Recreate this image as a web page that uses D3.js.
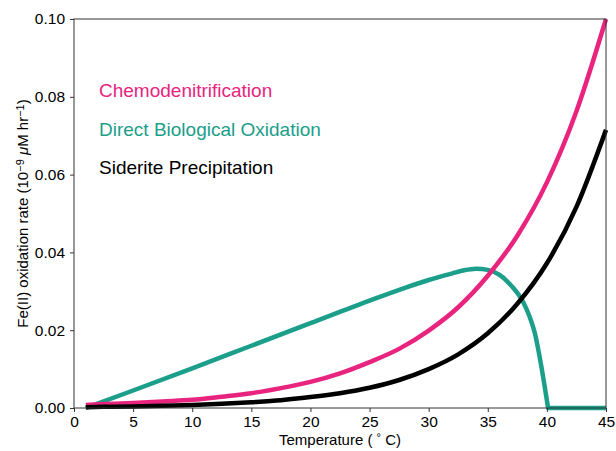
<!DOCTYPE html>
<html>
<head>
<meta charset="utf-8">
<script src="https://cdn.jsdelivr.net/npm/d3@7"></script>
<style>
    body { margin: 0; background: #fff; }
    text { font-family: "Liberation Sans", Arial, sans-serif; }
</style>
</head>
<body>
<div id="chart" style="width:616px;height:451px"></div>
<script>
/* global d3 */

// values
let tempsChemo = [1, 2.5, 5, 7.5, 10, 12.5, 15, 17.5, 20, 22.5, 25, 27.5, 30, 32.5, 35, 37.5, 40, 42.5, 45]
let chemoRate = [0.0008, 0.001, 0.0013, 0.0017, 0.0021, 0.0029, 0.0038, 0.0051, 0.0067, 0.0089, 0.0118, 0.0152, 0.0199, 0.0259, 0.0340, 0.0443, 0.0580, 0.0763, 0.1000]

let tempsSiderite = [1, 2.5, 5, 7.5, 10, 12.5, 15, 17.5, 20, 22.5, 25, 27.5, 30, 32.5, 35, 37.5, 40, 42.5, 45]
let sideriteRate = [0.0002, 0.0003, 0.0004, 0.0006, 0.0008, 0.0011, 0.0015, 0.002, 0.0028, 0.0038, 0.0052, 0.0072, 0.0100, 0.0138, 0.0192, 0.0268, 0.0372, 0.0517, 0.0715]

let tempsBio = [1, 5, 10, 15, 20, 25, 28, 30, 32, 33, 34, 35, 36, 37, 38, 38.5, 39, 39.5, 40.1, 45]
let bioRate = [0, 0.0045, 0.0102, 0.0160, 0.0218, 0.0276, 0.0309, 0.0329, 0.0346, 0.0354, 0.0358, 0.0355, 0.0342, 0.0314, 0.0272, 0.0238, 0.0190, 0.0112, 0, 0]

let xTicks = [0, 5, 10, 15, 20, 25, 30, 35, 40, 45]
let yTicks = [0, 0.02, 0.04, 0.06, 0.08, 0.10]

let seriesNames = ['Chemodenitrification', 'Direct Biological Oxidation', 'Siderite Precipitation']
let seriesColors = ['#e8247f', '#1b9e8a', '#000000']

let svgWidth = 616
let svgHeight = 451
let margin = { top: 19, right: 10, bottom: 43, left: 74 }
let width = svgWidth - margin.left - margin.right
let height = svgHeight - margin.top - margin.bottom

let svg = d3.select('#chart').append('svg')
    .attr('width', svgWidth)
    .attr('height', svgHeight)

let g = svg.append('g')
    .attr('transform', 'translate(' + margin.left + ', ' + margin.top + ')')

let xScale = d3.scaleLinear().domain([0, 45]).range([0, width])
let yScale = d3.scaleLinear().domain([0, 0.10]).range([height, 0])

let xAxis = d3.axisBottom(xScale)
    .tickValues(xTicks)
    .tickSize(4)
    .tickPadding(4)
    .tickFormat(d3.format('d'))

let yAxis = d3.axisLeft(yScale)
    .tickValues(yTicks)
    .tickSize(4)
    .tickPadding(5)
    .tickFormat(d3.format('.2f'))

let line = d3.line()
    .x(function (d) { return xScale(d[0]) })
    .y(function (d) { return yScale(d[1]) })
    .curve(d3.curveMonotoneX)

let lineStraight = d3.line()
    .x(function (d) { return xScale(d[0]) })
    .y(function (d) { return yScale(d[1]) })

let plot = g.append('g')

// biological oxidation first, the other two sit on top
// smooth up to the point where it hits zero, then a straight flat tail
let bioData = d3.zip(tempsBio, bioRate)
let zeroAt = bioRate.indexOf(0, 1)
plot.append('path')
    .attr('d', line(bioData.slice(0, zeroAt + 1)) + lineStraight(bioData.slice(zeroAt)).replace('M', 'L'))
    .attr('fill', 'none')
    .attr('stroke', seriesColors[1])
    .attr('stroke-width', 4.5)
    .attr('stroke-linejoin', 'round')

plot.append('path')
    .attr('d', line(d3.zip(tempsChemo, chemoRate)))
    .attr('fill', 'none')
    .attr('stroke', seriesColors[0])
    .attr('stroke-width', 4.5)

plot.append('path')
    .attr('d', line(d3.zip(tempsSiderite, sideriteRate)))
    .attr('fill', 'none')
    .attr('stroke', seriesColors[2])
    .attr('stroke-width', 4.5)

// frame
g.append('rect')
    .attr('width', width)
    .attr('height', height)
    .attr('fill', 'none')
    .attr('stroke', '#333')
    .attr('stroke-width', 1)

g.append('g')
    .attr('class', 'x axis')
    .attr('transform', 'translate(0,' + height + ')')
    .call(xAxis)

g.append('g')
    .attr('class', 'y axis')
    .call(yAxis)

g.selectAll('.axis .domain').remove()
g.selectAll('.axis line').attr('stroke', '#333')
g.selectAll('.axis text')
    .attr('font-size', 15.5)
    .attr('fill', '#000')
    .attr('font-family', '"Liberation Sans", Arial, sans-serif')

// axis labels
let xLabel = svg.append('text')
    .attr('x', margin.left + width / 2)
    .attr('y', 445)
    .attr('text-anchor', 'middle')
    .attr('font-size', 15)
xLabel.append('tspan').text('Temperature ( ')
xLabel.append('tspan').text('°').attr('font-size', 11).attr('baseline-shift', '35%')
xLabel.append('tspan').text(' C)')

let yLabel = svg.append('text')
    .attr('transform', 'translate(28,' + (margin.top + height / 2) + ') rotate(-90)')
    .attr('text-anchor', 'middle')
    .attr('font-size', 15)
yLabel.append('tspan').text('Fe(II) oxidation rate (10')
yLabel.append('tspan').text('−9').attr('font-size', 11).attr('baseline-shift', '40%')
yLabel.append('tspan').text(' ')
yLabel.append('tspan').text('μ').attr('font-style', 'italic')
yLabel.append('tspan').text('M hr')
yLabel.append('tspan').text('−1').attr('font-size', 11).attr('baseline-shift', '40%')
yLabel.append('tspan').text(')')

// text legend
let legendY = [97, 136, 174]
svg.selectAll('.legend')
    .data(seriesNames)
    .enter().append('text')
    .attr('class', 'legend')
    .attr('x', 99)
    .attr('y', function (d, i) { return legendY[i] })
    .attr('font-size', 19)
    .attr('fill', function (d, i) { return seriesColors[i] })
    .text(function (d) { return d })
</script>
</body>
</html>
